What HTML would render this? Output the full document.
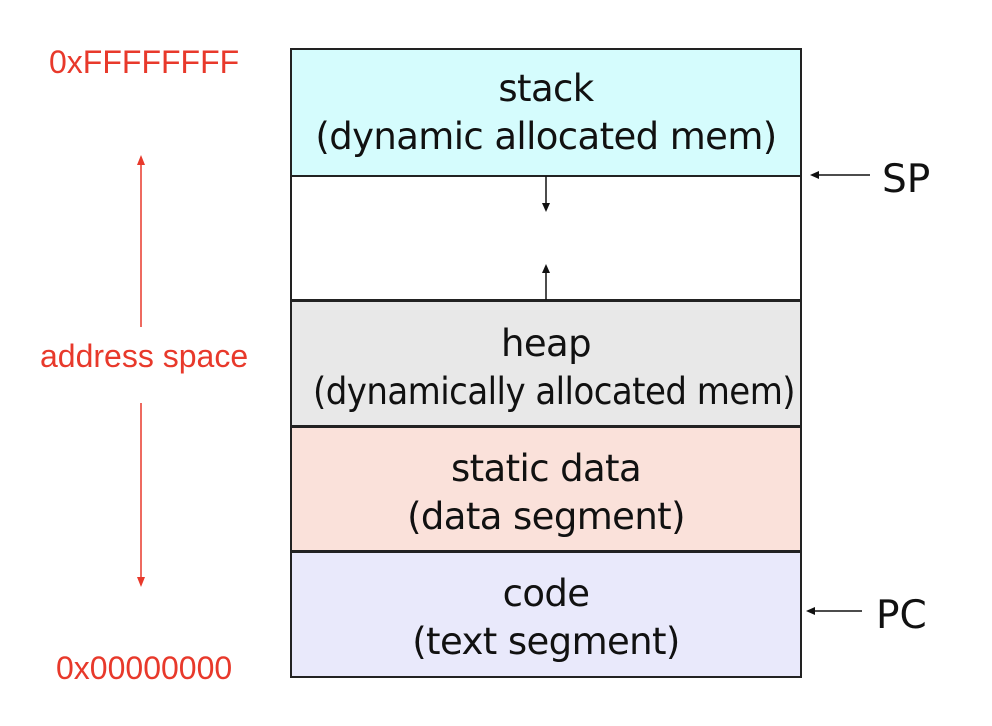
<!DOCTYPE html>
<html><head><style>
body{margin:0;width:992px;height:726px;background:#fff;position:relative;overflow:hidden;font-family:"DejaVu Sans",sans-serif}
.b{position:absolute;left:290px;width:512px;border:2px solid #222;box-sizing:border-box;text-align:center;color:#111;font-size:37px;line-height:48px;letter-spacing:-0.6px;white-space:nowrap}
.r{position:absolute;color:#e8392b;font-family:"Liberation Sans",sans-serif;font-size:32px;line-height:32px}
.t{position:absolute;font-size:39px;line-height:40px;color:#111;font-family:"DejaVu Sans",sans-serif}
</style></head><body>
<div class="b" style="top:175px;height:126px;background:#fff"></div>
<div class="b" style="top:48px;height:129px;background:#d5fcfd"><div style="position:absolute;top:15px;width:100%">stack<br>(dynamic allocated mem)</div></div>
<div class="b" style="top:300px;height:127px;background:#e8e8e8"><div style="position:absolute;top:18px;width:100%">heap<br><span style="display:inline-block;transform:scaleX(0.92)">(dynamically allocated mem)</span></div></div>
<div class="b" style="top:426px;height:126px;background:#fae1da"><div style="position:absolute;top:17px;width:100%">static data<br>(data segment)</div></div>
<div class="b" style="top:551px;height:127px;background:#e9e9fb"><div style="position:absolute;top:17px;width:100%">code<br>(text segment)</div></div>
<svg width="992" height="726" style="position:absolute;left:0;top:0">
<g stroke="#111" stroke-width="1.5" fill="#111">
<line x1="546" y1="176" x2="546" y2="204"/><polygon points="542,203 550,203 546,212" stroke="none"/>
<line x1="546" y1="300" x2="546" y2="272"/><polygon points="542,273 550,273 546,264" stroke="none"/>
<line x1="818" y1="175" x2="870" y2="175"/><polygon points="819,171 819,179 810,175" stroke="none"/>
<line x1="814" y1="611" x2="862" y2="611"/><polygon points="815,607 815,615 806,611" stroke="none"/>
</g>
<g stroke="#e8392b" stroke-width="1.5" fill="#e8392b">
<line x1="141" y1="164" x2="141" y2="327"/><polygon points="137,165 145,165 141,155" stroke="none"/>
<line x1="141" y1="403" x2="141" y2="578"/><polygon points="137,577 145,577 141,587" stroke="none"/>
</g>
</svg>
<div class="r" style="left:49px;top:46px">0xFFFFFFFF</div>
<div class="r" style="left:40px;top:340px">address space</div>
<div class="r" style="left:56px;top:652px">0x00000000</div>
<div class="t" style="left:882px;top:160px">SP</div>
<div class="t" style="left:876px;top:596px">PC</div>
</body></html>
